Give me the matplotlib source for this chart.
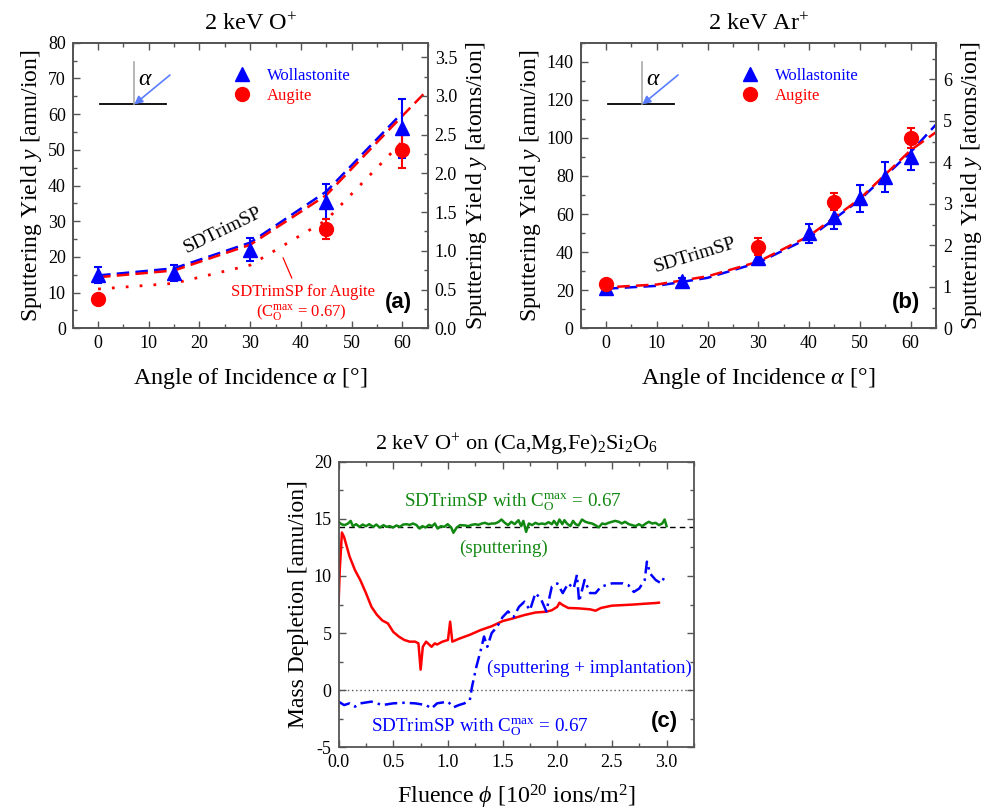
import numpy as np
import matplotlib
matplotlib.use("Agg")
import matplotlib.pyplot as plt
from matplotlib.lines import Line2D

plt.rcParams['font.family'] = ['Liberation Serif', 'DejaVu Serif']
plt.rcParams['mathtext.fontset'] = 'custom'
plt.rcParams['mathtext.rm'] = 'Liberation Serif'
plt.rcParams['mathtext.it'] = 'Liberation Serif:italic'
plt.rcParams['mathtext.bf'] = 'Liberation Serif:bold'
plt.rcParams['axes.unicode_minus'] = False

BLUE = '#0000ff'
RED = '#ff0000'
GREEN = '#118811'
SPINE = '#555555'

# ---- panel (a): 2 keV O+ ----
a_wol_ang = [0, 15, 30, 45, 60]
a_wol_y = [15.0, 15.4, 22.0, 35.5, 56.0]
a_wol_err = [2.2, 2.2, 3.2, 5.0, 8.3]
a_aug_ang = [0, 45, 60]
a_aug_y = [8.2, 27.9, 50.0]
a_aug_err = [0.0, 2.8, 5.0]
a_sim_wol_ang = [0, 15, 30, 45, 60]
a_sim_wol_y = [14.8, 16.8, 24.0, 38.3, 60.4]
a_sim_aug_ang = [0, 15, 30, 45, 60, 65]
a_sim_aug_y = [14.3, 16.2, 23.4, 37.3, 59.5, 66.8]
a_sim_aug67_ang = [0, 15, 30, 45, 60]
a_sim_aug67_y = [11.0, 12.6, 17.7, 30.3, 52.3]
a_amu_per_atom = 21.7

# ---- panel (b): 2 keV Ar+ ----
b_wol_ang = [0, 15, 30, 40, 45, 50, 55, 60]
b_wol_y = [21.0, 24.9, 37.0, 50.0, 58.3, 68.3, 79.5, 90.0]
b_wol_err = [1.0, 1.5, 4.0, 5.0, 6.0, 7.0, 8.0, 7.0]
b_aug_ang = [0, 30, 45, 60]
b_aug_y = [23.3, 42.9, 66.5, 100.0]
b_aug_err = [0.0, 4.4, 4.6, 5.2]
b_sim_ang = [0, 10, 20, 30, 40, 50, 60, 65]
b_sim_wol_y = [20.8, 22.3, 26.5, 34.5, 47.5, 67.5, 92.5, 107.0]
b_sim_aug_y = [21.5, 23.0, 27.3, 35.0, 48.5, 68.0, 93.5, 103.0]
b_amu_per_atom = 21.8

# ---- panel (c): mass depletion vs fluence ----
green_x = [0.00, 0.024, 0.055, 0.086, 0.11, 0.13, 0.16, 0.19, 0.22, 0.25, 0.28, 0.315,
           0.345, 0.376, 0.41, 0.437, 0.468, 0.498, 0.529, 0.56, 0.59, 0.62, 0.65, 0.68,
           0.71, 0.74, 0.765, 0.795, 0.826, 0.856, 0.88, 0.905, 0.936, 0.967, 0.997, 1.03,
           1.05, 1.08, 1.11, 1.156, 1.186, 1.217, 1.25, 1.278, 1.31, 1.34, 1.37, 1.40,
           1.43, 1.46, 1.49, 1.52, 1.55, 1.58, 1.61, 1.645, 1.67, 1.69, 1.715, 1.74,
           1.77, 1.80, 1.83, 1.86, 1.89, 1.92, 1.95, 1.97, 1.997, 2.02, 2.046, 2.065,
           2.088, 2.12, 2.144, 2.168, 2.195, 2.226, 2.257, 2.287, 2.318, 2.348, 2.379, 2.41,
           2.44, 2.47, 2.50, 2.53, 2.563, 2.59, 2.62, 2.655, 2.685, 2.716, 2.746, 2.777,
           2.81, 2.838, 2.868, 2.90, 2.93, 2.96, 2.982, 3.00]
green_y = [14.74, 14.53, 14.45, 14.59, 14.82, 14.36, 14.53, 14.30, 14.50, 14.36, 14.53, 14.30,
           14.50, 14.24, 14.45, 14.30, 14.36, 14.24, 14.42, 14.30, 14.50, 14.53, 14.47, 14.59,
           14.47, 14.15, 14.36, 14.24, 14.47, 14.36, 14.59, 14.15, 14.36, 14.30, 14.53, 14.24,
           13.78, 14.24, 14.45, 14.42, 14.36, 14.47, 14.53, 14.47, 14.59, 14.65, 14.53, 14.59,
           14.59, 14.71, 14.94, 14.65, 14.45, 14.74, 14.53, 14.88, 14.36, 14.82, 13.86, 14.59,
           14.45, 14.65, 14.53, 14.59, 14.53, 14.71, 14.53, 14.82, 14.45, 14.94, 14.53, 14.88,
           14.59, 14.36, 14.82, 14.53, 14.42, 14.94, 14.74, 14.65, 14.59, 14.45, 14.24, 14.59,
           14.53, 14.65, 14.74, 14.82, 14.74, 14.59, 14.74, 14.53, 14.45, 14.36, 14.53, 14.36,
           14.59, 14.74, 14.59, 14.65, 14.45, 14.59, 14.94, 14.36]
sputter_only_level = 14.3

red_x = [0.0, 0.01, 0.03, 0.05, 0.1, 0.15, 0.2, 0.25, 0.3, 0.35, 0.4, 0.45, 0.5, 0.55,
         0.6, 0.65, 0.7, 0.73, 0.75, 0.77, 0.8, 0.85, 0.88, 0.9, 0.95, 1.0, 1.02, 1.04,
         1.1, 1.2, 1.3, 1.4, 1.5, 1.6, 1.7, 1.8, 1.9, 1.95, 2.0, 2.02, 2.05, 2.1, 2.2,
         2.3, 2.35, 2.4, 2.5, 2.6, 2.7, 2.8, 2.9, 2.93]
red_y = [7.7, 10.5, 13.8, 13.4, 11.7, 10.5, 9.6, 8.5, 7.3, 6.6, 6.1, 5.85, 5.1, 4.7,
         4.4, 4.25, 4.25, 4.1, 1.8, 3.8, 4.25, 3.8, 4.1, 4.0, 4.25, 4.4, 6.0, 4.25,
         4.5, 4.85, 5.27, 5.6, 6.05, 6.3, 6.58, 6.8, 6.87, 7.0, 7.3, 7.66, 7.45, 7.2, 7.16,
         7.08, 6.96, 7.2, 7.4, 7.45, 7.5, 7.57, 7.63, 7.66]

blue_x = [0.0, 0.05, 0.1, 0.15, 0.2, 0.3, 0.4, 0.5, 0.6, 0.7, 0.8, 0.85, 0.9, 1.0, 1.05,
          1.1, 1.15, 1.2, 1.22, 1.26, 1.3, 1.33, 1.36, 1.4, 1.45, 1.5, 1.55, 1.6, 1.65,
          1.7, 1.75, 1.8, 1.85, 1.9, 1.95, 2.0, 2.05, 2.1, 2.15, 2.18, 2.2, 2.25, 2.3,
          2.35, 2.4, 2.5, 2.6, 2.65, 2.7, 2.75, 2.8, 2.82, 2.85, 2.9, 2.95, 2.98]
blue_y = [-1.0, -1.3, -1.15, -1.44, -1.15, -1.0, -1.3, -1.15, -1.1, -1.15, -1.3, -1.6,
          -1.15, -1.0, -1.5, -1.3, -1.15, -0.86, 0.3, 2.06, 3.5, 4.7, 3.8, 5.0, 5.56,
          6.4, 6.9, 6.4, 7.3, 7.75, 7.0, 8.5, 8.0, 6.9, 9.06, 9.35, 8.5, 9.35, 8.9, 10.1,
          7.75, 9.65, 8.5, 8.5, 9.06, 9.35, 9.35, 9.2, 8.6, 8.9, 9.65, 11.25, 10.2, 9.65,
          9.35, 9.9]

fig = plt.figure(figsize=(9.96, 8.11), dpi=100)
ax_a = fig.add_axes([0.073, 0.5952, 0.3564, 0.3521])
ax_b = fig.add_axes([0.583, 0.5952, 0.3567, 0.3521])
ax_c = fig.add_axes([0.340, 0.0785, 0.3567, 0.3522])


def style_axis(ax, right=True, top=True):
    ax.tick_params(which='both', direction='in', top=top, right=right,
                   labelsize=13, pad=5, color=SPINE)
    ax.tick_params(which='major', length=5, width=1)
    ax.tick_params(which='minor', length=3, width=1)
    for s in ax.spines.values():
        s.set_color(SPINE)
        s.set_linewidth(1.3)


def incidence_sketch(ax):
    tr = ax.transAxes
    ax.plot([0.077, 0.262], [0.784, 0.784], color='black', lw=1.3, transform=tr)
    ax.plot([0.1735, 0.1735], [0.784, 0.9335], color='#aaaaaa', lw=1.2, transform=tr)
    ax.annotate('', xy=(0.1735, 0.784), xytext=(0.274, 0.887), xycoords=tr, textcoords=tr,
                arrowprops=dict(arrowstyle='-|>', color='#5a7dff', lw=1.2,
                                mutation_scale=12, shrinkA=0, shrinkB=0))
    ax.text(0.206, 0.873, r'$\alpha$', transform=tr, fontsize=17, ha='center', va='center')


def yield_panel(ax, title, ymax, ymaj, ymin_, amu_per_atom, rmaj, rmin, label):
    ax.set_xlim(-5, 65)
    ax.set_ylim(0, ymax)
    ax.set_xticks(np.arange(0, 61, 10))
    ax.set_xticks(np.arange(-5, 66, 5), minor=True)
    ax.set_yticks(np.arange(0, ymax + 0.1, ymaj))
    ax.set_yticks(np.arange(0, ymax + 0.1, ymin_), minor=True)
    style_axis(ax, right=False)
    ax.set_title(title, fontsize=17.5, pad=9)
    ax.set_xlabel(r'Angle of Incidence $\alpha$ [°]', fontsize=17.3, labelpad=10)
    ax.set_ylabel(r'Sputtering Yield $y$ [amu/ion]', fontsize=17, labelpad=3)
    axr = ax.twinx()
    axr.set_ylim(0, ymax / amu_per_atom)
    axr.set_yticks(np.arange(0, ymax / amu_per_atom, rmaj))
    axr.set_yticks(np.arange(0, ymax / amu_per_atom, rmin), minor=True)
    style_axis(axr, right=True, top=False)
    axr.tick_params(which='both', left=False)
    axr.set_ylabel(r'Sputtering Yield $y$ [atoms/ion]', fontsize=17, labelpad=5)
    incidence_sketch(ax)
    handles = [Line2D([], [], ls='none', marker='^', ms=10, color=BLUE),
               Line2D([], [], ls='none', marker='o', ms=10, color=RED)]
    ax.legend(handles, ['Wollastonite', 'Augite'], labelcolor=[BLUE, RED], frameon=False,
              loc='upper left', bbox_to_anchor=(0.43, 0.935), fontsize=12,
              handlelength=1.2, handletextpad=0.9, labelspacing=0.25, borderaxespad=0)
    ax.text(0.955, 0.055, label, transform=ax.transAxes, ha='right', va='bottom',
            fontsize=16, fontweight='bold', family='Liberation Sans')
    return axr


# (a)
yield_panel(ax_a, r'2 keV O$^{+}$', 80, 10, 5, a_amu_per_atom, 0.5, 0.25, '(a)')
ax_a.plot(a_sim_wol_ang, a_sim_wol_y, color=BLUE, ls=(0, (5, 2.5)), lw=1.8)
ax_a.plot(a_sim_aug_ang, a_sim_aug_y, color=RED, ls=(0, (5, 2.5)), lw=1.8)
ax_a.plot(a_sim_aug67_ang, a_sim_aug67_y, color=RED, ls=(0, (1, 4)), lw=2)
ax_a.errorbar(a_wol_ang, a_wol_y, yerr=a_wol_err, fmt='^', ms=10, color=BLUE,
              capsize=3, elinewidth=1.5, capthick=1.5, zorder=5)
ax_a.errorbar(a_aug_ang, a_aug_y, yerr=a_aug_err, fmt='o', ms=10, color=RED,
              capsize=3, elinewidth=1.5, capthick=1.5, zorder=5)
ax_a.text(24.7, 27.5, 'SDTrimSP', fontsize=14, rotation=26, ha='center', va='center')
ax_a.plot([36.5, 38.2], [19.7, 14.1], color=RED, lw=0.9)
ax_a.text(40.5, 10.3, 'SDTrimSP for Augite', color=RED, fontsize=12, ha='center', va='center')
ax_a.text(40.2, 4.5, r'(C$_\mathrm{O}^\mathrm{max}$ = 0.67)', color=RED, fontsize=12,
          ha='center', va='center')

# (b)
yield_panel(ax_b, r'2 keV Ar$^{+}$', 150, 20, 10, b_amu_per_atom, 1, 0.5, '(b)')
ax_b.plot(b_sim_ang, b_sim_wol_y, color=BLUE, ls=(0, (5, 2.5)), lw=1.8)
ax_b.plot(b_sim_ang, b_sim_aug_y, color=RED, ls=(3, (5, 2.5)), lw=1.8)
ax_b.errorbar(b_wol_ang, b_wol_y, yerr=b_wol_err, fmt='^', ms=10, color=BLUE,
              capsize=3, elinewidth=1.5, capthick=1.5, zorder=5)
ax_b.errorbar(b_aug_ang, b_aug_y, yerr=b_aug_err, fmt='o', ms=10, color=RED,
              capsize=3, elinewidth=1.5, capthick=1.5, zorder=6)
ax_b.text(17.5, 38.5, 'SDTrimSP', fontsize=14, rotation=17, ha='center', va='center')

# (c)
ax_c.set_xlim(0, 3.25)
ax_c.set_ylim(-5, 20)
ax_c.set_xticks(np.arange(0, 3.01, 0.5))
ax_c.set_xticks(np.arange(0, 3.26, 0.25), minor=True)
ax_c.xaxis.set_major_formatter(matplotlib.ticker.FormatStrFormatter('%.1f'))
ax_c.set_yticks(np.arange(-5, 20.1, 5))
ax_c.set_yticks(np.arange(-5, 20.1, 2.5), minor=True)
style_axis(ax_c)
ax_c.axhline(sputter_only_level, color='black', lw=1, ls=(0, (4, 3)))
ax_c.axhline(0, color='#555555', lw=1, ls=(0, (1, 2)))
ax_c.plot(green_x, green_y, color=GREEN, lw=1.8)
ax_c.plot(red_x, red_y, color=RED, lw=1.8)
ax_c.plot(blue_x, blue_y, color=BLUE, lw=1.8, ls=(0, (5, 2, 1, 2)))
ax_c.set_title(r'2 keV O$^{+}$ on (Ca,Mg,Fe)$_2$Si$_2$O$_6$', fontsize=16, pad=8)
ax_c.set_xlabel(r'Fluence $\phi$ [10$^{20}$ ions/m$^2$]', fontsize=17.3, labelpad=8)
ax_c.set_ylabel('Mass Depletion [amu/ion]', fontsize=17, labelpad=3)
ax_c.text(1.59, 16.5, r'SDTrimSP with C$_\mathrm{O}^\mathrm{max}$ = 0.67', color=GREEN,
          fontsize=13.7, ha='center', va='center')
ax_c.text(1.51, 12.4, '(sputtering)', color=GREEN, fontsize=13.7, ha='center', va='center')
ax_c.text(2.29, 1.9, '(sputtering + implantation)', color=BLUE, fontsize=13.7,
          ha='center', va='center')
ax_c.text(1.29, -3.2, r'SDTrimSP with C$_\mathrm{O}^\mathrm{max}$ = 0.67', color=BLUE,
          fontsize=13.7, ha='center', va='center')
ax_c.text(0.955, 0.055, '(c)', transform=ax_c.transAxes, ha='right', va='bottom',
          fontsize=16, fontweight='bold', family='Liberation Sans')

fig.savefig('out.png', dpi=100)
